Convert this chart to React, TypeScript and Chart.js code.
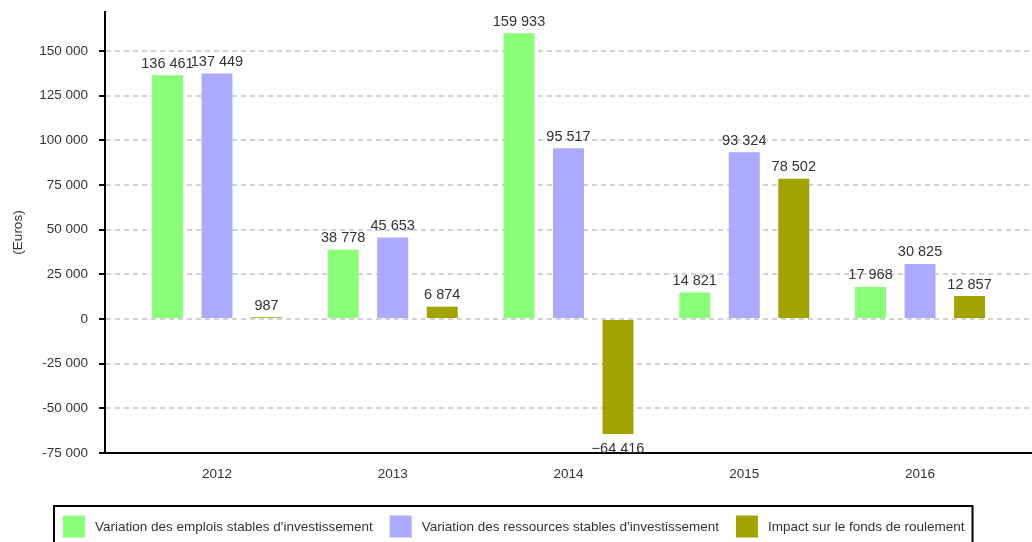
import { useEffect, useRef } from "react";
import { Chart, registerables } from "chart.js";

Chart.register(...registerables);

// Yearly figures (euros)
const years = ["2012", "2013", "2014", "2015", "2016"];
const emploisStables = [136461, 38778, 159933, 14821, 17968];
const ressourcesStables = [137449, 45653, 95517, 93324, 30825];
const impactFondsRoulement = [987, 6874, -64416, 78502, 12857];

const seriesNames = [
  "Variation des emplois stables d'investissement",
  "Variation des ressources stables d'investissement",
  "Impact sur le fonds de roulement",
];
const seriesColors = ["#88ff77", "#aaaaff", "#a3a300"];

// Value axis
const yTicks = [-75000, -50000, -25000, 0, 25000, 50000, 75000, 100000, 125000, 150000];
const yMin = -75000;
const yMax = 171800;
const yTitle = "(Euros)";

const FONT = "'Liberation Sans', Arial, sans-serif";
const TEXT = "#333333";

const fmt = (v: number, minus = "-") =>
  (v < 0 ? minus : "") +
  Math.abs(Math.round(v))
    .toString()
    .replace(/\B(?=(\d{3})+(?!\d))/g, " ");

// Writes each bar's value above it (below it for negative bars)
const valueLabels = {
  id: "valueLabels",
  afterDatasetsDraw(chart: any) {
    const ctx = chart.ctx;
    ctx.save();
    ctx.font = `14.5px ${FONT}`;
    ctx.fillStyle = TEXT;
    ctx.textAlign = "center";
    ctx.textBaseline = "alphabetic";
    chart.data.datasets.forEach((ds: any, di: number) => {
      const meta = chart.getDatasetMeta(di);
      meta.data.forEach((bar: any, i: number) => {
        const v = ds.data[i].y;
        const { x, y } = bar.getProps(["x", "y"], true);
        if (v >= 0) ctx.fillText(fmt(v, "\u2212"), x, y - 7.5);
        else ctx.fillText(fmt(v, "\u2212"), x, y + 19);
      });
    });
    ctx.restore();
  },
};

// Single-row legend framed by a black rectangle under the axis
const boxedLegend = {
  id: "boxedLegend",
  afterDraw(chart: any) {
    const ctx = chart.ctx;
    ctx.save();
    ctx.font = `13.5px ${FONT}`;
    const widths = seriesNames.map((n) => ctx.measureText(n).width);
    const box = 22;
    const gapText = 10;
    const gapItem = 17;
    const padL = 10;
    const padR = 9;
    const total =
      padL +
      widths.reduce((s: number, w: number) => s + box + gapText + w, 0) +
      gapItem * (widths.length - 1) +
      padR;
    const left = Math.round(chart.width / 2 - total / 2) - 3;
    const top = chart.chartArea.bottom + 52;

    ctx.strokeStyle = "#000";
    ctx.lineWidth = 2;
    ctx.strokeRect(left + 1, top + 1, total - 2, 44);

    let x = left + padL;
    const cy = top + 21.5;
    ctx.textBaseline = "middle";
    ctx.textAlign = "left";
    seriesNames.forEach((name, i) => {
      ctx.fillStyle = seriesColors[i];
      ctx.fillRect(x, cy - box / 2, box, box);
      ctx.fillStyle = TEXT;
      ctx.fillText(name, x + box + gapText, cy + 0.5);
      x += box + gapText + widths[i] + gapItem;
    });
    ctx.restore();
  },
};

export default function App() {
  const canvasRef = useRef<HTMLCanvasElement | null>(null);

  useEffect(() => {
    if (!canvasRef.current) return;
    const series = [emploisStables, ressourcesStables, impactFondsRoulement];
    const chart = new Chart(canvasRef.current, {
      type: "bar",
      data: {
        datasets: series.map((vals, si) => ({
          label: seriesNames[si],
          data: vals.map((v, i) => ({ x: i, y: v })),
          backgroundColor: seriesColors[si],
          borderWidth: 0,
          categoryPercentage: 0.845,
          barPercentage: 0.626,
        })),
      },
      options: {
        responsive: false,
        animation: false,
        layout: { padding: { top: 12, left: 0, right: 0, bottom: 0 } },
        plugins: {
          legend: { display: false },
          tooltip: { enabled: false },
        },
        scales: {
          x: {
            type: "linear",
            min: -0.637,
            max: 4.637,
            offset: false,
            afterBuildTicks: (s: any) => {
              s.ticks = years.map((_, i) => ({ value: i }));
            },
            afterFit: (s: any) => {
              s.height = 89;
              s.paddingLeft = 0;
              s.paddingRight = 0;
            },
            ticks: {
              padding: 13,
              color: TEXT,
              font: { family: FONT, size: 13.5 },
              callback: (v: any) => years[v] ?? "",
            },
            grid: { display: false, drawTicks: false },
            border: { display: true, color: "#000", width: 2 },
          },
          y: {
            min: yMin,
            max: yMax,
            afterBuildTicks: (s: any) => {
              s.ticks = yTicks.map((v) => ({ value: v }));
            },
            afterFit: (s: any) => {
              s.width = 105;
              s.paddingTop = 0;
              s.paddingBottom = 0;
            },
            ticks: {
              padding: 11,
              color: TEXT,
              font: { family: FONT, size: 13.5 },
              callback: (v: any) => fmt(Number(v)),
            },
            grid: {
              color: "#d2d2d2",
              lineWidth: 2,
              tickColor: "#000",
              tickWidth: 2,
              tickLength: 6,
            },
            border: { display: true, color: "#000", width: 2, dash: [5, 4] },
            title: {
              display: true,
              text: yTitle,
              color: TEXT,
              font: { family: FONT, size: 13.5 },
              padding: { top: 10, bottom: 0 },
            },
          },
        },
      },
      plugins: [valueLabels, boxedLegend],
    } as any);
    return () => chart.destroy();
  }, []);

  return (
    <div style={{ position: "fixed", left: 0, top: 0, width: 1032, height: 542, background: "#fff" }}>
      <canvas ref={canvasRef} width={1032} height={542} style={{ display: "block" }} />
    </div>
  );
}
